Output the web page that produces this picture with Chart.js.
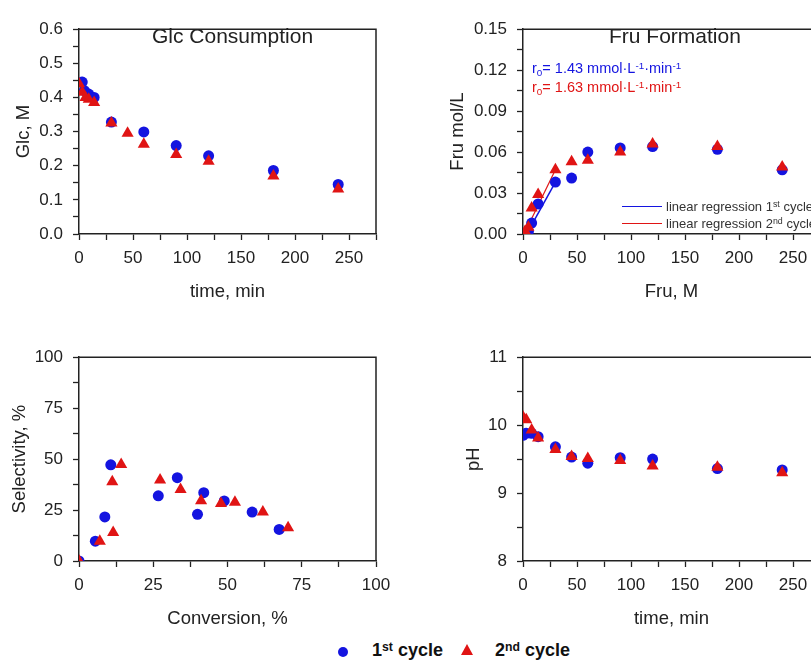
<!DOCTYPE html>
<html lang="en">
<head>
<meta charset="UTF-8">
<script src="https://cdn.jsdelivr.net/npm/chart.js@4.4.0/dist/chart.umd.min.js"></script>
<style>
  html, body { margin: 0; padding: 0; background: #fff; overflow: hidden; }
  body { width: 811px; height: 662px; position: relative; font-family: Arial, "Liberation Sans", sans-serif; color: #222; }
  canvas { position: absolute; }
  .txt { position: absolute; white-space: nowrap; line-height: 1; z-index: 2; }
  .txt sub, .txt sup { font-size: 0.68em; position: relative; vertical-align: baseline; }
  .txt sub { top: 0.3em; }
  .txt sup { top: -0.45em; }
  .title { font-size: 21px; }
  .r0 { font-size: 14.5px; }
  .reg { font-size: 13px; color: #333; }
  .regline { position: absolute; height: 0; width: 40px; z-index: 2; }
  .leg { font-size: 18px; font-weight: bold; color: #111; }
  .dot { position: absolute; width: 10px; height: 10px; border-radius: 50%; }
  .tri { position: absolute; width: 0; height: 0; border-left: 6.5px solid transparent; border-right: 6.5px solid transparent; }
</style>
</head>
<body>
<canvas id="glc"></canvas>
<canvas id="fru"></canvas>
<canvas id="sel"></canvas>
<canvas id="ph"></canvas>

<div class="txt title" style="left:152px; top:25px;">Glc Consumption</div>
<div class="txt title" style="left:609px; top:25px;">Fru Formation</div>
<div class="txt r0" style="left:532px; top:61px; color:#1414e0;">r<sub>0</sub>= 1.43 mmol·L<sup>-1</sup>·min<sup>-1</sup></div>
<div class="txt r0" style="left:532px; top:80px; color:#e01414;">r<sub>0</sub>= 1.63 mmol·L<sup>-1</sup>·min<sup>-1</sup></div>
<div class="regline" style="left:622px; top:206px; border-top:1.5px solid #1414e0;"></div>
<div class="regline" style="left:622px; top:223px; border-top:1px solid #e01414;"></div>
<div class="txt reg" style="left:666px; top:200px;">linear regression 1<sup>st</sup> cycle</div>
<div class="txt reg" style="left:666px; top:217px;">linear regression 2<sup>nd</sup> cycle</div>

<div class="dot" style="left:338px; top:647px; background:#1414e0;"></div>
<div class="txt leg" style="left:372px; top:641px;">1<sup>st</sup> cycle</div>
<div class="tri" style="left:461px; top:644px; border-bottom:11px solid #e01414;"></div>
<div class="txt leg" style="left:495px; top:641px;">2<sup>nd</sup> cycle</div>

<script>
// Glc consumption (time, min -> Glc, M)
const glcTime1 = [3, 5, 9, 14, 30, 60, 90, 120, 180, 240];
const glc1 = [0.445, 0.42, 0.41, 0.40, 0.328, 0.299, 0.259, 0.229, 0.186, 0.145];
const glcTime2 = [0, 3, 6, 9, 14, 30, 45, 60, 90, 120, 180, 240];
const glc2 = [0.44, 0.415, 0.40, 0.395, 0.385, 0.325, 0.295, 0.263, 0.233, 0.213, 0.170, 0.132];

// Fru formation (time, min -> Fru, mol/L)
const fruTime1 = [3, 5, 8, 14, 30, 45, 60, 90, 120, 180, 240];
const fru1 = [0.000, 0.002, 0.008, 0.022, 0.038, 0.041, 0.060, 0.063, 0.064, 0.062, 0.047];
const fruTime2 = [2, 5, 8, 14, 30, 45, 60, 90, 120, 180, 240];
const fru2 = [0.002, 0.005, 0.019, 0.029, 0.047, 0.053, 0.054, 0.060, 0.066, 0.064, 0.049];
// initial-rate regression lines (end points)
const regTime1 = [4, 30];
const reg1 = [0.0008, 0.038];
const regTime2 = [2, 30];
const reg2 = [0.0014, 0.047];

// Selectivity vs conversion (%)
const conv1 = [0, 5.5, 8.7, 10.7, 26.7, 33.1, 39.9, 42, 48.9, 58.3, 67.4];
const sel1 = [0, 9.7, 21.6, 47.2, 32, 40.9, 22.9, 33.5, 29.5, 24, 15.5];
const conv2 = [0, 7, 11.5, 11.2, 14.2, 27.3, 34.2, 41.1, 47.8, 52.5, 61.9, 70.4];
const sel2 = [0, 9.7, 14, 38.9, 47.3, 39.8, 35.1, 29.6, 28.2, 28.8, 24, 16.3];

// pH (time, min)
const phTime1 = [0, 3, 8, 14, 30, 45, 60, 90, 120, 180, 240];
const ph1 = [9.85, 9.88, 9.88, 9.83, 9.68, 9.53, 9.44, 9.52, 9.50, 9.36, 9.34];
const phTime2 = [0, 3, 8, 14, 30, 45, 60, 90, 120, 180, 240];
const ph2 = [10.12, 10.08, 9.93, 9.81, 9.64, 9.54, 9.51, 9.48, 9.40, 9.38, 9.30];

const BLUE = '#1414e0', RED = '#e01414', INK = '#222';
const FONT = 'Arial, "Liberation Sans", sans-serif';

function pts(xs, ys) { return xs.map((x, i) => ({x: x, y: ys[i]})); }

function circles(xs, ys) {
  return {data: pts(xs, ys), pointStyle: 'circle', pointRadius: 5.5, pointHoverRadius: 5.5,
    backgroundColor: BLUE, borderWidth: 0, showLine: false, order: 2};
}
function triangles(xs, ys) {
  return {data: pts(xs, ys), pointStyle: 'triangle', pointRadius: 7, pointHoverRadius: 7,
    backgroundColor: RED, borderWidth: 0, showLine: false, order: 1};
}
function regLine(xs, ys, color, w) {
  return {data: pts(xs, ys), showLine: true, pointRadius: 0, borderColor: color, borderWidth: w, order: 3};
}

function axis(pos, min, max, step, major, digits, title, size) {
  return {
    type: 'linear', position: pos, min: min, max: max,
    afterBuildTicks(s) {
      const n = Math.round((max - min) / step);
      s.ticks = [];
      for (let i = 0; i <= n; i++) s.ticks.push({value: +(min + i * step).toFixed(6)});
    },
    afterFit(s) { if (pos === 'left') s.width = size; else s.height = size; },
    border: {display: true, color: INK, width: 1.5},
    grid: {display: true, drawOnChartArea: false, drawTicks: true, tickLength: 6, tickColor: INK, tickWidth: 1.3},
    ticks: {
      autoSkip: false, maxRotation: 0, minRotation: 0,
      padding: pos === 'left' ? 10 : 8,
      color: INK, font: {family: FONT, size: 17},
      callback(v) {
        const k = v / major;
        return Math.abs(k - Math.round(k)) < 1e-6 ? v.toFixed(digits) : '';
      }
    },
    title: {display: true, text: title, color: INK, padding: 0, font: {family: FONT, size: 18.5}}
  };
}

const frame = {
  id: 'frame',
  afterDraw(chart) {
    const a = chart.chartArea, ctx = chart.ctx;
    ctx.save();
    ctx.strokeStyle = INK;
    ctx.lineWidth = 1.5;
    ctx.beginPath();
    ctx.moveTo(a.left, a.top);
    ctx.lineTo(a.right, a.top);
    ctx.lineTo(a.right, a.bottom);
    ctx.stroke();
    ctx.restore();
  }
};

// box: plot area in page pixels, W/H: y-axis width, x-axis height
function panel(id, box, xAxis, yAxis, datasets) {
  const padTop = 12, padRight = 34;
  const cv = document.getElementById(id);
  cv.width = box.W + (box.x1 - box.x0) + padRight;
  cv.height = padTop + (box.y1 - box.y0) + box.H;
  cv.style.left = (box.x0 - box.W) + 'px';
  cv.style.top = (box.y0 - padTop) + 'px';
  return new Chart(cv, {
    type: 'scatter',
    data: {datasets: datasets},
    options: {
      responsive: false, animation: false,
      layout: {padding: {top: padTop, right: padRight, left: 0, bottom: 0}},
      plugins: {legend: {display: false}, tooltip: {enabled: false}},
      scales: {x: xAxis, y: yAxis}
    },
    plugins: [frame]
  });
}

const XH = 69;

panel('glc', {x0: 79, x1: 376, y0: 21, y1: 234, W: 66, H: XH},
  axis('bottom', 0, 275, 25, 50, 0, 'time, min', XH),
  axis('left', 0, 0.6, 0.05, 0.1, 1, 'Glc, M', 66),
  [circles(glcTime1, glc1), triangles(glcTime2, glc2)]);

panel('fru', {x0: 523, x1: 820, y0: 21, y1: 234, W: 76, H: XH},
  axis('bottom', 0, 275, 25, 50, 0, 'Fru, M', XH),
  axis('left', 0, 0.15, 0.015, 0.03, 2, 'Fru mol/L', 76),
  [circles(fruTime1, fru1), triangles(fruTime2, fru2),
   regLine(regTime1, reg1, BLUE, 1.5), regLine(regTime2, reg2, RED, 1.2)]);

panel('sel', {x0: 79, x1: 376, y0: 349, y1: 561, W: 70, H: XH},
  axis('bottom', 0, 100, 12.5, 25, 0, 'Conversion, %', XH),
  axis('left', 0, 100, 12.5, 25, 0, 'Selectivity, %', 70),
  [circles(conv1, sel1), triangles(conv2, sel2)]);

panel('ph', {x0: 523, x1: 820, y0: 349, y1: 561, W: 60, H: XH},
  axis('bottom', 0, 275, 25, 50, 0, 'time, min', XH),
  axis('left', 8, 11, 0.5, 1, 0, 'pH', 60),
  [circles(phTime1, ph1), triangles(phTime2, ph2)]);
</script>
</body>
</html>
